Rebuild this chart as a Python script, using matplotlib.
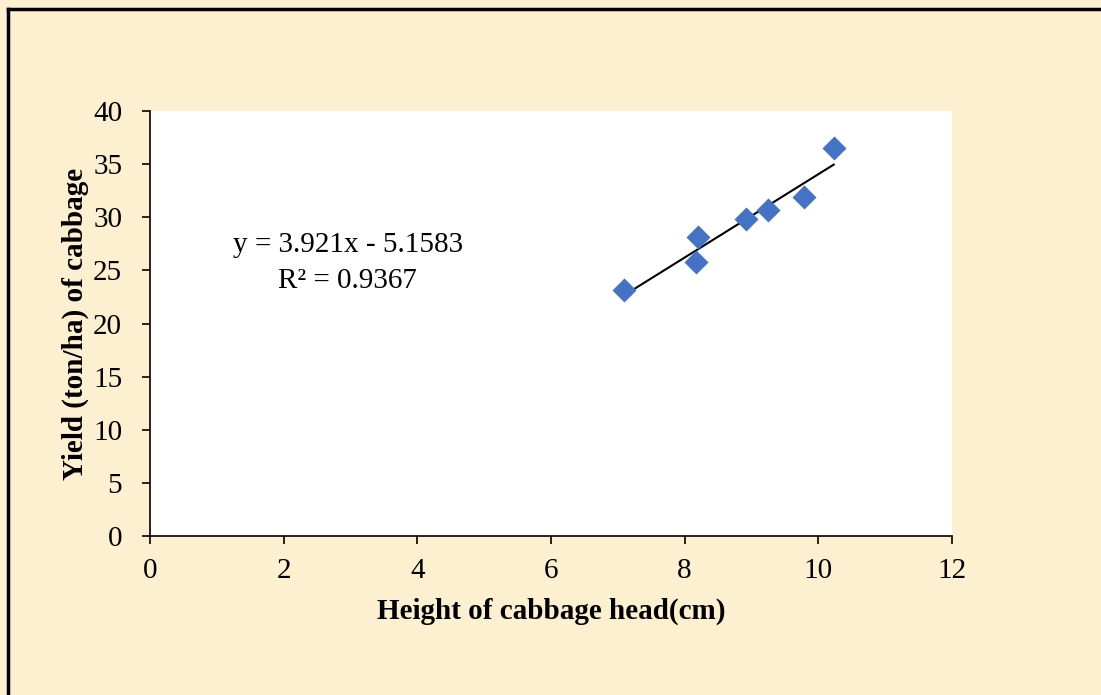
import matplotlib
matplotlib.use("Agg")
import matplotlib.pyplot as plt
from matplotlib.lines import Line2D
import numpy as np

height_cm = [7.09, 8.17, 8.20, 8.92, 9.25, 9.79, 10.23]
yield_tha = [23.2, 25.8, 28.1, 29.8, 30.7, 31.9, 36.5]
slope, intercept = 3.921, -5.1583
eq_text = "y = 3.921x - 5.1583"
r2_text = "R² = 0.9367"
x_ticks = [0, 2, 4, 6, 8, 10, 12]
y_ticks = [0, 5, 10, 15, 20, 25, 30, 35, 40]

plt.rcParams['font.family'] = ['Liberation Serif', 'DejaVu Serif']

fig = plt.figure(figsize=(11.01, 6.95), dpi=100)
fig.patch.set_facecolor('#FDF0D0')

ax = fig.add_axes([150/1101, 1-536/695, (952-150)/1101, (536-111)/695])
ax.set_facecolor('white')

ax.scatter(height_cm, yield_tha, marker='D', s=150, color='#4472C4', zorder=3, linewidths=0)
xs = np.array([min(height_cm), max(height_cm)])
ax.plot(xs, slope*xs + intercept, color='black', lw=1.5, zorder=2)

ax.set_xlim(0, 12)
ax.set_ylim(0, 40)
ax.set_xticks(x_ticks)
ax.set_yticks(y_ticks)
ax.tick_params(axis='both', direction='out', length=6, width=1.2, labelsize=21, colors='black')
ax.tick_params(axis='x', pad=10)
ax.tick_params(axis='y', pad=14)
for s in ['top', 'right']:
    ax.spines[s].set_visible(False)
for s in ['left', 'bottom']:
    ax.spines[s].set_linewidth(1.2)
    ax.spines[s].set_color('black')

ax.set_xlabel("Height of cabbage head(cm)", fontsize=21, fontweight='bold', labelpad=10)
ax.set_ylabel("Yield (ton/ha) of cabbage", fontsize=21, fontweight='bold', labelpad=3)

fig.text(348/1101, 1-245/695, eq_text, fontsize=21, ha='center', va='center')
fig.text(347/1101, 1-281/695, r2_text, fontsize=21, ha='center', va='center')

fig.add_artist(Line2D([8/1101, 8/1101], [0, 1-9/695], color='black', lw=2.5, transform=fig.transFigure))
fig.add_artist(Line2D([8/1101, 1], [1-9/695, 1-9/695], color='black', lw=2.5, transform=fig.transFigure))

fig.savefig("out.png", dpi=100, facecolor=fig.get_facecolor())
